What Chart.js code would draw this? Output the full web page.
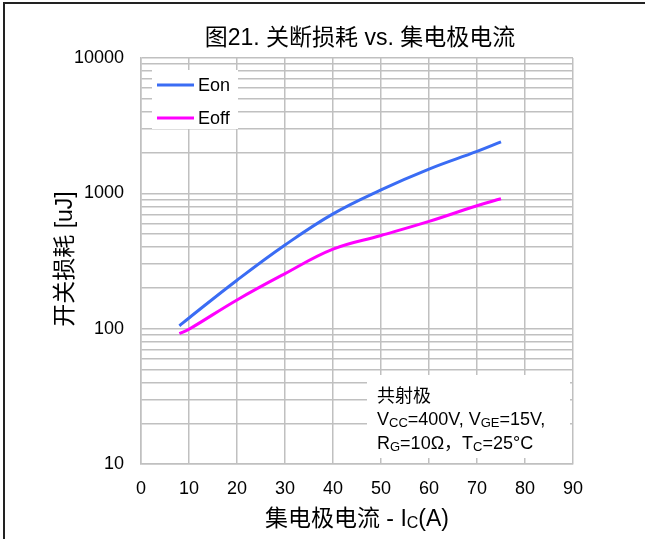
<!DOCTYPE html>
<html>
<head>
<meta charset="utf-8">
<script src="https://cdn.jsdelivr.net/npm/chart.js@4/dist/chart.umd.min.js"></script>
<style>
    html, body { margin: 0; padding: 0; background: #fff; }
    canvas { display: block; }
</style>
</head>
<body>
<canvas id="myChart" width="645" height="539"></canvas>
<script>
'use strict';

const currents = [8, 10, 20, 30, 40, 50, 60, 70, 75];
const eonValues = [105, 120, 228, 415, 705, 1060, 1510, 2040, 2400];
const eoffValues = [92, 99, 163, 255, 387, 488, 620, 810, 912];
const yTickLabels = [10, 100, 1000, 10000];
const xTickLabels = [0, 10, 20, 30, 40, 50, 60, 70, 80, 90];

const LATIN = '"Liberation Sans", Arial, "Noto Sans CJK SC", sans-serif';
const font = (size) => size + 'px ' + LATIN;

// draws text with subscripts, parts = [[text, isSub], ...]
function drawRich(ctx, parts, x, y, size, align) {
    const subSize = Math.round(size * 0.7);
    let total = 0;
    parts.forEach((p) => {
        ctx.font = font(p[1] ? subSize : size);
        total += ctx.measureText(p[0]).width;
    });
    let cx = align === 'center' ? x - total / 2 : x;
    ctx.textAlign = 'left';
    ctx.textBaseline = 'alphabetic';
    parts.forEach((p) => {
        ctx.font = font(p[1] ? subSize : size);
        ctx.fillText(p[0], cx, p[1] ? y + 2 : y);
        cx += ctx.measureText(p[0]).width;
    });
}

const decorations = {
    'id': 'decorations',
    beforeDatasetsDraw(chart) {
        const ctx = chart.ctx;
        const area = chart.chartArea;
        ctx.save();

        // legend box
        ctx.fillStyle = '#fff';
        ctx.fillRect(152, 70, 86, 59);
        ctx.lineWidth = 3;
        ctx.strokeStyle = '#3a6cf4';
        ctx.beginPath();
        ctx.moveTo(157, 85);
        ctx.lineTo(194, 85);
        ctx.stroke();
        ctx.strokeStyle = '#ff00ff';
        ctx.beginPath();
        ctx.moveTo(157, 118);
        ctx.lineTo(194, 118);
        ctx.stroke();
        ctx.fillStyle = '#000';
        ctx.font = font(18);
        ctx.textAlign = 'left';
        ctx.textBaseline = 'middle';
        ctx.fillText('Eon', 198, 86);
        ctx.fillText('Eoff', 198, 119);

        // conditions box
        ctx.fillStyle = '#fff';
        ctx.fillRect(367, 375, 203, 83);
        ctx.fillStyle = '#000';
        drawRich(ctx, [['共射极', false]], 377, 402, 18, 'left');
        drawRich(ctx, [['V', false], ['CC', true], ['=400V, V', false], ['GE', true], ['=15V,', false]], 377, 425, 18, 'left');
        drawRich(ctx, [['R', false], ['G', true], ['=10Ω，T', false], ['C', true], ['=25°C', false]], 377, 449, 18, 'left');

        // titles
        const midX = (area.left + area.right) / 2;
        ctx.fillStyle = '#000';
        ctx.font = font(23);
        ctx.textAlign = 'center';
        ctx.textBaseline = 'middle';
        ctx.fillText('图21. 关断损耗 vs. 集电极电流', midX + 3, 39);
        drawRich(ctx, [['集电极电流 - I', false], ['C', true], ['(A)', false]], midX, 526, 23, 'center');

        ctx.save();
        ctx.translate(66, 259);
        ctx.rotate(-Math.PI / 2);
        ctx.font = font(23);
        ctx.textAlign = 'center';
        ctx.textBaseline = 'middle';
        ctx.fillText('开关损耗 [uJ]', 0, 0);
        ctx.restore();

        // outer frame
        ctx.fillStyle = '#222';
        ctx.fillRect(3, 2, 642, 2);
        ctx.fillRect(3, 2, 2, 537);
        ctx.restore();
    }
};

const ctx = document.getElementById('myChart').getContext('2d');
const chart = new Chart(ctx, {
    'type': 'line',
    'data': {
        'datasets': [
            {
                'label': 'Eon',
                'data': currents.map((c, i) => ({'x': c, 'y': eonValues[i]})),
                'borderColor': '#3a6cf4',
                'borderWidth': 3,
                'pointRadius': 0,
                'tension': 0.4
            },
            {
                'label': 'Eoff',
                'data': currents.map((c, i) => ({'x': c, 'y': eoffValues[i]})),
                'borderColor': '#ff00ff',
                'borderWidth': 3,
                'pointRadius': 0,
                'tension': 0.4
            }
        ]
    },
    'options': {
        'responsive': false,
        'animation': false,
        'devicePixelRatio': 1,
        'layout': {'padding': {'top': 58, 'right': 72, 'bottom': 0, 'left': 0}},
        'plugins': {
            'legend': {'display': false},
            'title': {'display': false},
            'tooltip': {'enabled': false}
        },
        'scales': {
            'x': {
                'type': 'linear',
                'min': xTickLabels[0],
                'max': xTickLabels[xTickLabels.length - 1],
                'afterBuildTicks': (scale) => {
                    scale.ticks = xTickLabels.map((v) => ({'value': v}));
                },
                'afterFit': (scale) => { scale.height = 75; },
                'grid': {'color': '#c0c0c0', 'lineWidth': 1.5, 'drawTicks': false},
                'border': {'color': '#c0c0c0', 'width': 1.5},
                'ticks': {'color': '#000', 'font': {'family': LATIN, 'size': 18}, 'padding': 14, 'maxRotation': 0}
            },
            'y': {
                'type': 'logarithmic',
                'min': yTickLabels[0],
                'max': yTickLabels[yTickLabels.length - 1],
                'afterBuildTicks': (scale) => {
                    const ticks = [];
                    for (let d = 0; d < yTickLabels.length - 1; d++) {
                        for (let m = 1; m < 10; m++) {
                            ticks.push({'value': yTickLabels[d] * m});
                        }
                    }
                    ticks.push({'value': yTickLabels[yTickLabels.length - 1]});
                    scale.ticks = ticks;
                },
                'afterFit': (scale) => { scale.width = 141; },
                'grid': {'color': '#c0c0c0', 'lineWidth': 1.5, 'drawTicks': false},
                'border': {'color': '#c0c0c0', 'width': 1.5},
                'ticks': {
                    'color': '#000',
                    'font': {'family': LATIN, 'size': 18},
                    'padding': 17,
                    'autoSkip': false,
                    'callback': (value) => (yTickLabels.includes(value) ? String(value) : '')
                }
            }
        }
    },
    'plugins': [decorations]
});
</script>
</body>
</html>
